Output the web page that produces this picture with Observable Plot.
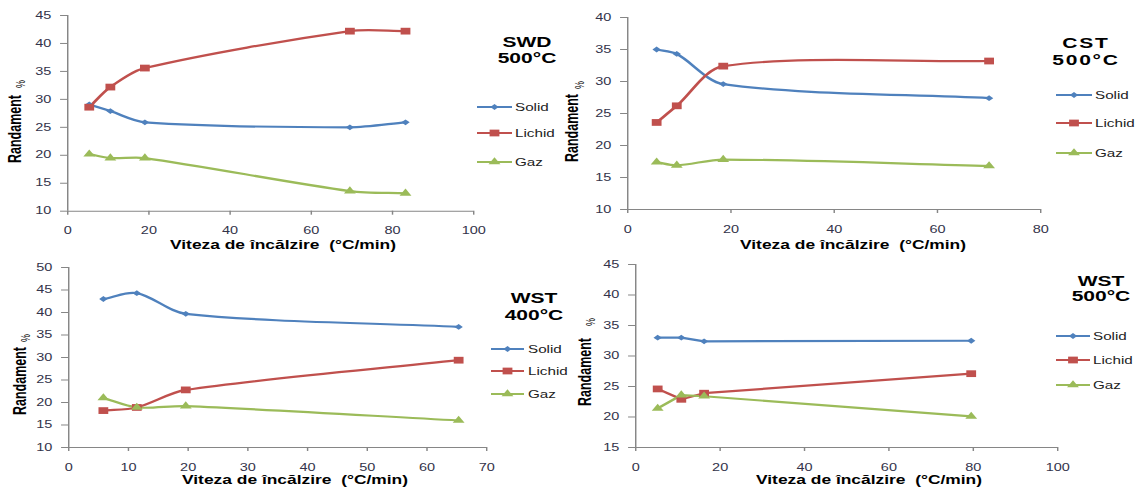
<!DOCTYPE html>
<html><head><meta charset="utf-8">
<script src="https://cdn.jsdelivr.net/npm/d3@7"></script>
<script src="https://cdn.jsdelivr.net/npm/@observablehq/plot@0.6"></script>
<style>
body{margin:0;background:#fff;}
#page{position:relative;width:1148px;height:487px;overflow:hidden;background:#fff;font-family:"Liberation Sans",Arial,sans-serif;}
.panel{position:absolute;transform-origin:0 0;}
.panel svg{position:absolute;left:0;top:0;overflow:visible;}
</style></head><body><div id="page"></div>
<script>
// ---------- data ----------
const seriesNames = ["Solid", "Lichid", "Gaz"];
const seriesColors = ["#4F81BD", "#C0504D", "#9BBB59"];

const swdRate   = [5.3, 10.5, 19.0, 69.5, 83.2];
const swdSolid  = [29.1, 27.9, 25.9, 25.0, 25.9];
const swdLichid = [28.6, 32.2, 35.6, 42.2, 42.2];
const swdGaz    = [20.2, 19.5, 19.5, 13.6, 13.2];
const swdXTicks = [0, 20, 40, 60, 80, 100];
const swdYTicks = [10, 15, 20, 25, 30, 35, 40, 45];

const cstRate   = [5.6, 9.5, 18.5, 70.0];
const cstSolid  = [35.0, 34.3, 29.6, 27.4];
const cstLichid = [23.6, 26.2, 32.4, 33.2];
const cstGaz    = [17.4, 16.9, 17.8, 16.8];
const cstXTicks = [0, 20, 40, 60, 80];
const cstYTicks = [10, 15, 20, 25, 30, 35, 40];

const wst400Rate   = [5.8, 11.4, 19.6, 65.3];
const wst400Solid  = [43.0, 44.3, 39.7, 36.8];
const wst400Lichid = [18.2, 18.9, 22.8, 29.4];
const wst400Gaz    = [21.0, 18.9, 19.2, 16.0];
const wst400XTicks = [0, 10, 20, 30, 40, 50, 60, 70];
const wst400YTicks = [10, 15, 20, 25, 30, 35, 40, 45, 50];

const wst500Rate   = [5.2, 10.8, 16.2, 79.5];
const wst500Solid  = [33.0, 33.0, 32.4, 32.5];
const wst500Lichid = [24.6, 22.9, 23.9, 27.1];
const wst500Gaz    = [21.4, 23.6, 23.4, 20.1];
const wst500XTicks = [0, 20, 40, 60, 80, 100];
const wst500YTicks = [15, 20, 25, 30, 35, 40, 45];

const xTitleText = "Viteza de încălzire\u00a0\u00a0(°C/min)";
const yTitleText = "Randament";
const yUnitText = "%";

// ---------- layout / style ----------
const S = 1.45; // horizontal stretch of the original picture
const FONT = '"Liberation Sans", Arial, sans-serif';
const symbolNames = ["diamond2", "square2", "triangle2"];
const d3Symbols = [d3.symbolDiamond2, d3.symbolSquare2, d3.symbolTriangle2];
const symbolR = [2.6, 4.3, 3.9];

// spreadsheet-style smoothed line: tangent along neighbours, handle length proportional to segment
function smoothCurve(context) {
  let pts;
  return {
    areaStart() {}, areaEnd() {},
    lineStart() { pts = []; },
    point(x, y) { pts.push([+x * S, +y]); },
    lineEnd() {
      const n = pts.length;
      if (!n) return;
      context.moveTo(pts[0][0] / S, pts[0][1]);
      const tan = pts.map((p, i) => {
        const a = pts[Math.max(0, i - 1)], b = pts[Math.min(n - 1, i + 1)];
        const dx = b[0] - a[0], dy = b[1] - a[1], L = Math.hypot(dx, dy) || 1;
        return [dx / L, dy / L];
      });
      for (let i = 0; i < n - 1; i++) {
        const p0 = pts[i], p1 = pts[i + 1];
        const d = Math.hypot(p1[0] - p0[0], p1[1] - p0[1]) * 0.3;
        context.bezierCurveTo(
          (p0[0] + tan[i][0] * d) / S, p0[1] + tan[i][1] * d,
          (p1[0] - tan[i + 1][0] * d) / S, p1[1] - tan[i + 1][1] * d,
          p1[0] / S, p1[1]);
      }
    }
  };
}

const panels = [
  {left: 0, top: 0, W: 574, H: 252, frame: {l: 67, r: 473, t: 15, b: 210.7},
   rate: swdRate, vals: [swdSolid, swdLichid, swdGaz], xTicks: swdXTicks, yTicks: swdYTicks, curve: smoothCurve,
   title: ["SWD", "500°C"], titlePos: {x: 527, y: [42, 58]}, spacing: 0,
   legend: {x1: 477, x2: 512, tx: 515, ys: [107, 133, 162]},
   xTitle: {x: 283, y: 245}, yTitle: {x: 15, y: 129, px: 20, py: 84}},
  {left: 560, top: 0, W: 588, H: 252, frame: {l: 627, r: 1040, t: 17, b: 209},
   rate: cstRate, vals: [cstSolid, cstLichid, cstGaz], xTicks: cstXTicks, yTicks: cstYTicks, curve: smoothCurve,
   title: ["CST", "500°C"], titlePos: {x: 1086, y: [43, 60]}, spacing: 1.2,
   legend: {x1: 1056, x2: 1092, tx: 1095, ys: [95, 123, 153]},
   xTitle: {x: 853, y: 245}, yTitle: {x: 572, y: 128, px: 579, py: 85}},
  {left: 0, top: 250, W: 574, H: 237, frame: {l: 68, r: 486, t: 267, b: 447},
   rate: wst400Rate, vals: [wst400Solid, wst400Lichid, wst400Gaz], xTicks: wst400XTicks, yTicks: wst400YTicks, curve: smoothCurve,
   title: ["WST", "400°C"], titlePos: {x: 534, y: [298, 315]}, spacing: 0,
   legend: {x1: 491, x2: 524, tx: 528, ys: [349, 371, 394]},
   xTitle: {x: 295, y: 480}, yTitle: {x: 20, y: 381, px: 25, py: 338}},
  {left: 560, top: 250, W: 588, H: 237, frame: {l: 635, r: 1057, t: 264, b: 447},
   rate: wst500Rate, vals: [wst500Solid, wst500Lichid, wst500Gaz], xTicks: wst500XTicks, yTicks: wst500YTicks, curve: "linear",
   title: ["WST", "500°C"], titlePos: {x: 1101, y: [281, 296]}, spacing: 0,
   legend: {x1: 1056, x2: 1090, tx: 1093, ys: [336, 360, 385]},
   xTitle: {x: 869, y: 480}, yTitle: {x: 585, y: 372, px: 590, py: 322}}
];

const page = document.getElementById("page");

for (const p of panels) {
  const lw = p.W / S;
  const lx = (X) => (X - p.left) / S;
  const ly = (Y) => Y - p.top;
  const rows = p.rate.flatMap((xv, i) => seriesNames.map((s, k) => ({x: xv, y: p.vals[k][i], s})));

  const div = document.createElement("div");
  div.className = "panel";
  div.style.left = p.left + "px";
  div.style.top = p.top + "px";
  div.style.width = lw + "px";
  div.style.height = p.H + "px";
  div.style.transform = `scaleX(${S})`;
  page.appendChild(div);

  const chart = Plot.plot({
    width: lw,
    height: p.H,
    marginLeft: lx(p.frame.l),
    marginRight: lw - lx(p.frame.r),
    marginTop: ly(p.frame.t),
    marginBottom: p.H - ly(p.frame.b),
    style: {background: "transparent", fontSize: "10px", fontFamily: FONT, overflow: "visible"},
    x: {domain: [p.xTicks[0], p.xTicks[p.xTicks.length - 1]]},
    y: {domain: [p.yTicks[0], p.yTicks[p.yTicks.length - 1]]},
    color: {domain: seriesNames, range: seriesColors},
    marks: [
      Plot.ruleY([p.yTicks[0]], {stroke: "#868686", strokeWidth: 1}),
      Plot.ruleX([p.xTicks[0]], {stroke: "#868686", strokeWidth: 1}),
      Plot.axisX({ticks: p.xTicks, tickSize: 4, tickPadding: 12, stroke: "#868686", fill: "#33334a", label: null}),
      Plot.axisY({ticks: p.yTicks, tickSize: 4.8, tickPadding: 6.5, stroke: "#868686", fill: "#33334a", label: null}),
      Plot.line(rows, {x: "x", y: "y", z: "s", stroke: "s", strokeWidth: 2.2, curve: p.curve}),
      ...seriesNames.map((s, k) => Plot.dot(rows.filter(d => d.s === s), {
        x: "x", y: "y", symbol: symbolNames[k], r: symbolR[k], fill: seriesColors[k], stroke: null
      }))
    ]
  });
  div.appendChild(chart);

  // overlay: titles, legend, axis titles
  const ov = d3.select(div).append("svg")
    .attr("width", lw).attr("height", p.H)
    .style("font-family", FONT);

  p.title.forEach((t, i) => {
    ov.append("text").attr("x", lx(p.titlePos.x)).attr("y", ly(p.titlePos.y[i]))
      .attr("text-anchor", "middle").attr("dominant-baseline", "central")
      .attr("font-size", 14.5).attr("font-weight", "bold").attr("fill", "#000")
      .attr("letter-spacing", p.spacing).text(t);
  });

  seriesNames.forEach((s, k) => {
    const y = ly(p.legend.ys[k]);
    const g = ov.append("g");
    g.append("line").attr("x1", lx(p.legend.x1)).attr("x2", lx(p.legend.x2))
      .attr("y1", y).attr("y2", y).attr("stroke", seriesColors[k]).attr("stroke-width", 2.2);
    const cx = (lx(p.legend.x1) + lx(p.legend.x2)) / 2;
    g.append("path").attr("transform", `translate(${cx},${y})`)
      .attr("d", d3.symbol(d3Symbols[k], Math.PI * symbolR[k] * symbolR[k])())
      .attr("fill", seriesColors[k]);
    g.append("text").attr("x", lx(p.legend.tx)).attr("y", y)
      .attr("dominant-baseline", "central").attr("font-size", 10.5).attr("fill", "#222").text(s);
  });

  ov.append("text").attr("x", lx(p.xTitle.x)).attr("y", ly(p.xTitle.y))
    .attr("text-anchor", "middle").attr("dominant-baseline", "central")
    .attr("font-size", 12).attr("font-weight", "bold").attr("fill", "#000").text(xTitleText);

  ov.append("text").attr("transform", `translate(${lx(p.yTitle.x)},${ly(p.yTitle.y)}) rotate(-90)`)
    .attr("text-anchor", "middle").attr("dominant-baseline", "central")
    .attr("font-size", 12.5).attr("font-weight", "bold").attr("fill", "#000").text(yTitleText);
  ov.append("text").attr("transform", `translate(${lx(p.yTitle.px)},${ly(p.yTitle.py)}) rotate(-90)`)
    .attr("text-anchor", "middle").attr("dominant-baseline", "central")
    .attr("font-size", 9).attr("fill", "#000").text(yUnitText);
}
</script></body></html>
